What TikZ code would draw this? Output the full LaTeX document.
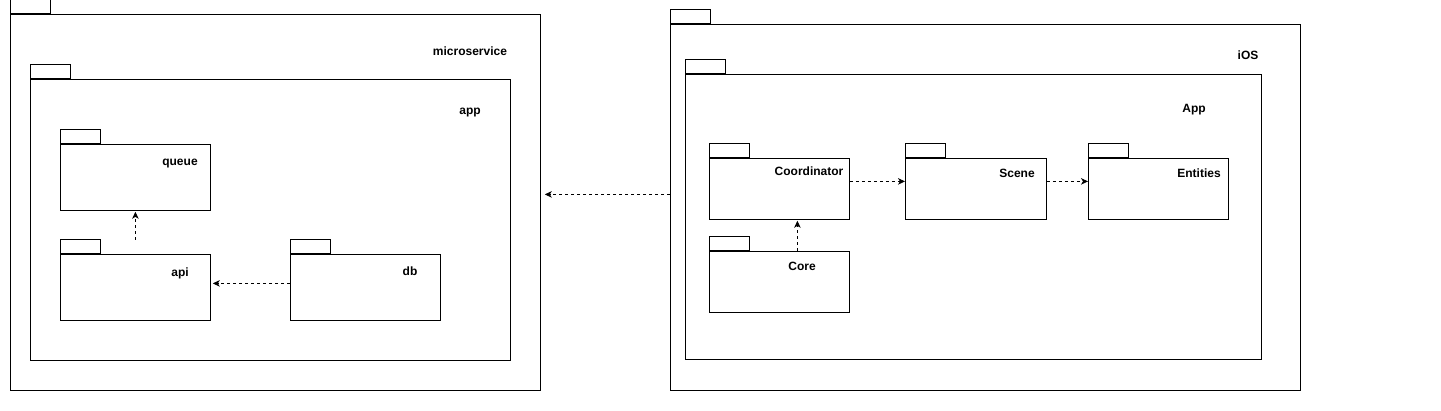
\documentclass[tikz,border=0pt]{standalone}
\usepackage{fontspec}
\setmainfont{Liberation Sans}
\usetikzlibrary{arrows.meta}

\begin{document}
\begin{tikzpicture}[x=1pt, y=-1pt,
        pkg/.style={draw, line width=0.8pt, anchor=north west, inner sep=0pt},
        tab/.style={draw, line width=0.8pt, anchor=south west, inner sep=0pt,
            minimum width=40pt, minimum height=14pt},
        lbl/.style={font=\fontsize{12}{14}\selectfont\bfseries, inner sep=0pt},
        dep/.style={->, dashed, line width=0.8pt},
        >={Stealth[length=7pt, width=6.5pt, inset=2pt]}]

        \useasboundingbox (0,0) rectangle (1441,411);

        % microservice side
        \node[pkg, minimum width=530pt, minimum height=376pt] (micro) at (10,14) {};
        \node[tab] (microtab) at (micro.north west) {};
        \node[lbl] (microlbl) at (470,51) {microservice};

        \node[pkg, minimum width=480pt, minimum height=281pt] (app) at (30,79) {};
        \node[tab] (apptab) at (app.north west) {};
        \node[lbl] (applbl) at (470,113) {app};

        \node[pkg, minimum width=150pt, minimum height=66pt] (queue) at (60,144) {};
        \node[tab] (queuetab) at (queue.north west) {};
        \node[lbl] (queuelbl) at (180,164) {queue};

        \node[pkg, minimum width=150pt, minimum height=66pt] (api) at (60,254) {};
        \node[tab] (apitab) at (api.north west) {};
        \node[lbl] (apilbl) at (180,273) {api};

        \node[pkg, minimum width=150pt, minimum height=66pt] (db) at (290,254) {};
        \node[tab] (dbtab) at (db.north west) {};
        \node[lbl] (dblbl) at (410,271) {db};

        % iOS side
        \node[pkg, minimum width=630pt, minimum height=366pt] (ios) at (670,24) {};
        \node[tab] (iostab) at (ios.north west) {};
        \node[lbl] (ioslbl) at (1248,55) {iOS};

        \node[pkg, minimum width=576pt, minimum height=285pt] (iosapp) at (685,74) {};
        \node[tab] (iosapptab) at (iosapp.north west) {};
        \node[lbl] (iosapplbl) at (1194,110) {App};

        \node[pkg, minimum width=140pt, minimum height=61pt] (coord) at (709,158) {};
        \node[tab] (coordtab) at (coord.north west) {};
        \node[lbl] (coordlbl) at (809,171) {Coordinator};

        \node[pkg, minimum width=141pt, minimum height=61pt] (scene) at (905,158) {};
        \node[tab] (scenetab) at (scene.north west) {};
        \node[lbl] (scenelbl) at (1017,173) {Scene};

        \node[pkg, minimum width=140pt, minimum height=61pt] (entities) at (1088,158) {};
        \node[tab] (entitiestab) at (entities.north west) {};
        \node[lbl] (entitieslbl) at (1199,173) {Entities};

        \node[pkg, minimum width=140pt, minimum height=61pt] (core) at (709,251) {};
        \node[tab] (coretab) at (core.north west) {};
        \node[lbl] (corelbl) at (802,266) {Core};

        % dependencies
        \draw[dep] ([yshift=14pt]api.north) -- ([yshift=-1pt]queue.south);
        \draw[dep] ([yshift=4pt]db.west) -- ([xshift=2pt,yshift=4pt]api.east);
        \draw[dep] ([yshift=13pt]ios.west) -- ([xshift=4pt,yshift=8pt]micro.east);
        \draw[dep] ([xshift=18pt]core.north) -- ([xshift=18pt,yshift=-1pt]coord.south);
        \draw[dep] ([yshift=7.5pt]coord.east) -- ([yshift=7.5pt]scene.west);
        \draw[dep] ([yshift=7.5pt]scene.east) -- ([yshift=7.5pt]entities.west);

    \end{tikzpicture}
\end{document}
